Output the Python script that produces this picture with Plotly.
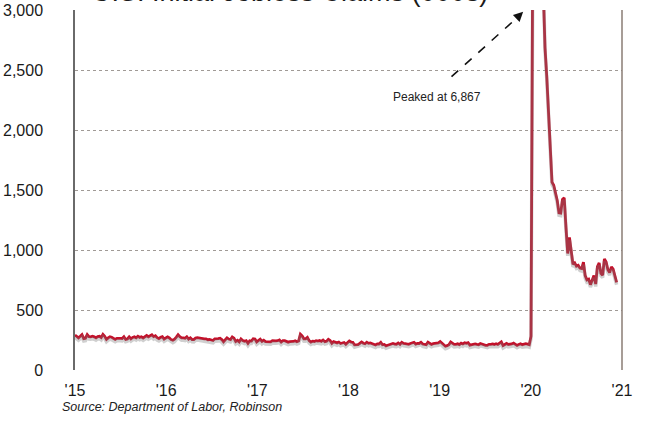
import plotly.graph_objects as go

# Weekly initial jobless claims (thousands), week index 0 = mid-March 2015
claims = [
    # Mar 2015 - Mar 2016
    291, 282, 268, 281, 295, 262, 265, 295, 278, 276, 282, 276, 268,
    279, 281, 271, 297, 281, 255, 268, 277, 273, 267, 255, 264, 267,
    264, 262, 277, 255, 259, 276, 260, 271, 276, 269, 282, 272, 277,
    267, 275, 287, 277, 284, 293, 278, 285, 269, 262, 272, 278, 258,
    # Mar 2016 - Mar 2017
    265, 276, 267, 253, 248, 257, 274, 294, 278, 268, 267, 264, 277,
    258, 268, 254, 253, 266, 269, 266, 262, 262, 259, 260, 252, 254,
    249, 246, 260, 258, 261, 265, 254, 235, 251, 268, 258, 254, 275,
    265, 237, 247, 234, 259, 246, 239, 244, 223, 243, 241, 261, 258,
    # Mar 2017 - Mar 2018
    234, 244, 257, 238, 248, 236, 235, 232, 234, 245, 241, 242, 244,
    250, 233, 245, 244, 240, 232, 236, 234, 238, 244, 236, 242, 298,
    284, 260, 260, 272, 245, 233, 240, 238, 244, 241, 245, 238, 250,
    236, 240, 255, 245, 222, 236, 230, 226, 233, 221, 225, 229, 215,
    # Mar 2018 - Mar 2019
    227, 242, 233, 231, 209, 213, 211, 222, 234, 223, 219, 231, 222,
    226, 220, 213, 208, 218, 217, 231, 210, 213, 201, 206, 210, 215,
    221, 216, 215, 225, 214, 231, 221, 220, 216, 214, 221, 225, 231,
    216, 222, 221, 231, 216, 214, 210, 232, 220, 213, 219, 221, 228,
    # Mar 2019 - Mar 2020
    226, 237, 226, 211, 198, 203, 211, 233, 225, 213, 214, 218, 212,
    224, 217, 227, 222, 228, 207, 212, 213, 218, 213, 211, 221, 216,
    209, 206, 206, 214, 214, 218, 213, 219, 213, 224, 235, 204, 212,
    221, 213, 214, 217, 224, 212, 205, 213, 219, 211, 215, 219, 216,
    # Mar 2020 - Feb 2021
    211, 282, 3307, 6867, 6615, 5237, 4442, 3867, 3176, 2687, 2446, 2126, 1897,
    1566, 1540, 1482, 1413, 1310, 1307, 1422, 1435, 1191, 971, 1104, 1011, 881,
    893, 866, 873, 849, 845, 898, 787, 751, 757, 711, 748, 787, 716,
    862, 892, 806, 790, 926, 900, 835, 812, 860, 841, 770, 730,
]
weeks = list(range(len(claims)))

year_labels = ["'15", "'16", "'17", "'18", "'19", "'20", "'21"]
weeks_per_year = 365.25 / 7
year_ticks = [i * weeks_per_year for i in range(len(year_labels))]

y_ticks = [0, 500, 1000, 1500, 2000, 2500, 3000]
peak_value = max(claims)

FONT = "Arial, Liberation Sans, sans-serif"

W, H = 645, 429
ML, MR, MT, MB = 75, 23, 10, 59
plot_w = W - ML - MR
plot_h = H - MT - MB


def px_x(px):
    return (px - ML) / plot_w


def px_y(py):
    return (H - MB - py) / plot_h


fig = go.Figure()

# soft grey shadow just below the series
fig.add_trace(go.Scatter(
    x=weeks, y=claims, mode="lines", yaxis="y2",
    line=dict(color="rgba(120,120,120,0.35)", width=3.5),
    hoverinfo="skip", showlegend=False,
))
fig.add_trace(go.Scatter(
    x=weeks, y=claims, mode="lines",
    line=dict(color="#c3102a", width=2.8),
    showlegend=False,
))

fig.update_layout(
    width=W, height=H,
    margin=dict(l=ML, r=MR, t=MT, b=MB, autoexpand=False),
    paper_bgcolor="white", plot_bgcolor="white",
    font=dict(family=FONT, color="#1a1a1a"),
    xaxis=dict(
        range=[0, year_ticks[-1]],
        tickvals=year_ticks, ticktext=year_labels,
        showgrid=False, zeroline=False, showline=False,
        ticks="", tickfont=dict(size=16, family=FONT, color="#1a1a1a"),
        ticklabelstandoff=9,
    ),
    yaxis=dict(
        range=[0, 3000], tickvals=y_ticks, tickformat=",",
        showgrid=True, gridcolor="#a09a96", griddash="dot", gridwidth=1,
        zeroline=False, showline=True, linecolor="#6a6a6a", linewidth=1.5,
        ticks="", tickfont=dict(size=16, family=FONT, color="#1a1a1a"),
        ticklabelstandoff=27,
    ),
    yaxis2=dict(
        overlaying="y", range=[20, 3020], visible=False,
    ),
)

# right-hand frame edge
fig.add_shape(
    type="line", xref="x domain", yref="y domain",
    x0=1, x1=1, y0=0, y1=1,
    line=dict(color="#8a7c74", width=1.5),
)

# dashed leader toward the off-scale peak
fig.add_shape(
    type="line", xref="x", yref="y",
    x0=215.5, y0=2445, x1=254.5, y1=2955,
    line=dict(color="#111111", width=1.6, dash="dash"),
)
fig.add_annotation(
    x=256.5, y=2985, ax=254.0, ay=2950, xref="x", yref="y",
    axref="x", ayref="y", text="", showarrow=True,
    arrowhead=2, arrowsize=1.2, arrowwidth=1.6, arrowcolor="#111111",
)
fig.add_annotation(
    x=207, y=2275, xref="x", yref="y",
    text=f"Peaked at {peak_value:,}", showarrow=False,
    xanchor="center", yanchor="middle",
    font=dict(size=12, family=FONT, color="#222222"),
)

# chart title, running off the top edge
fig.add_annotation(
    x=px_x(290), y=px_y(9.5), xref="paper", yref="paper",
    text="U.S. Initial Jobless Claims (000s)", showarrow=False,
    xanchor="center", yanchor="bottom",
    font=dict(size=27, family=FONT, color="#1a1a1a"),
)

# source note
fig.add_annotation(
    x=px_x(60), y=px_y(407), xref="paper", yref="paper",
    text="Source: Department of Labor, Robinson", showarrow=False,
    xanchor="left", yanchor="middle",
    font=dict(size=12.5, family=FONT, color="#222222", style="italic"),
)

fig.write_html("out.html")
